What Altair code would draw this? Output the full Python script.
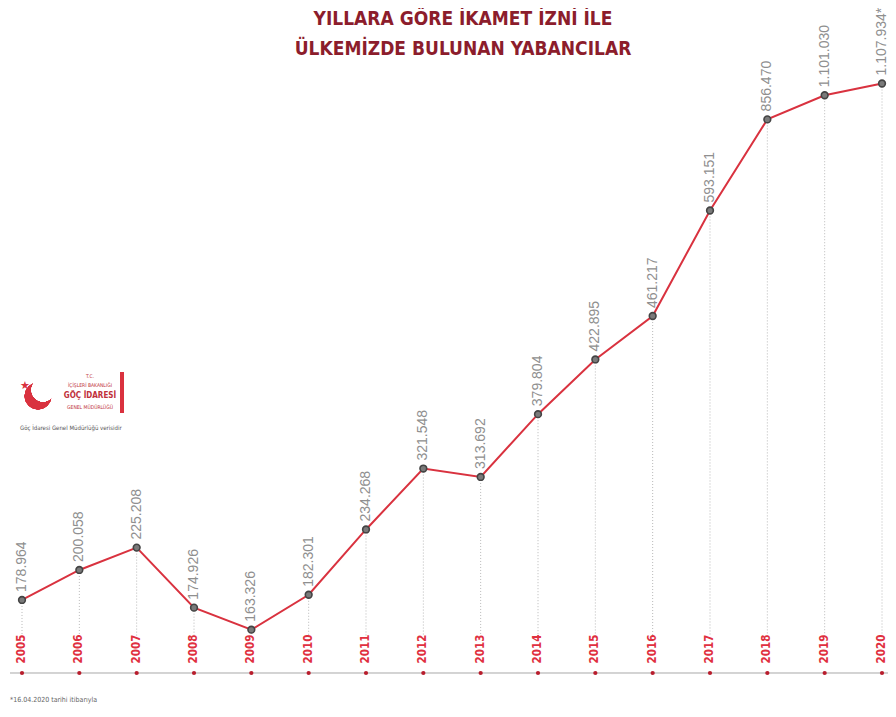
import altair as alt
import pandas as pd

# ---- data ----
years = [2005, 2006, 2007, 2008, 2009, 2010, 2011, 2012,
         2013, 2014, 2015, 2016, 2017, 2018, 2019, 2020]
values = [178964, 200058, 225208, 174926, 163326, 182301, 234268, 321548,
          313692, 379804, 422895, 461217, 593151, 856470, 1101030, 1107934]
notes = [""] * 15 + ["*"]

title_lines = ["YILLARA GÖRE İKAMET İZNİ İLE", "ÜLKEMİZDE BULUNAN YABANCILAR"]
footnote = "*16.04.2020 tarihi itibarıyla"
source_note = "Göç İdaresi Genel Müdürlüğü verisidir"
logo_lines = ["T.C.", "İÇİŞLERİ BAKANLIĞI", "GÖÇ İDARESİ", "GENEL MÜDÜRLÜĞÜ"]

labels = [f"{v:,}".replace(",", ".") + n for v, n in zip(values, notes)]
df = pd.DataFrame({"year": years, "value": values, "label": labels})

# the infographic is not drawn to a linear scale: piecewise-linear y scale
Y_KNOTS = [150000, 180000, 200000, 225000, 240000, 300000, 320000,
           380000, 450000, 600000, 850000, 1100000, 1110000]
Y_RANGE = [647, 590, 562, 540, 510, 484, 462, 406, 317, 197, 112, 89, 72]

RED = "#d9323f"
COND = "DejaVu Sans Condensed"
x = alt.X("year:Q", scale=alt.Scale(domain=[2005, 2020], range=[14, 874]), axis=None)
y = alt.Y("value:Q", scale=alt.Scale(domain=Y_KNOTS, range=Y_RANGE, zero=False, nice=False), axis=None)

base = alt.Chart(df)

drops = base.mark_rule(strokeDash=[1, 2], color="#b8b8b8", strokeWidth=1).encode(
    x=x, y=y, y2=alt.value(628))
line = base.mark_line(color=RED, strokeWidth=2).encode(x=x, y=y)
pts = base.mark_circle(size=45, fill="#7a7a7a", stroke="#444444", strokeWidth=1.6, opacity=1).encode(x=x, y=y)
vlabels = base.mark_text(angle=270, align="left", baseline="middle", dx=8, fontSize=14,
                         color="#8f8f8f", font="Liberation Sans").encode(x=x, y=y, text="label:N")
ylabels = base.mark_text(angle=270, align="center", baseline="middle", fontSize=11.5,
                         fontWeight="bold", font=COND, color="#e0303f").encode(
    x=x, y=alt.value(641), text=alt.Text("year:Q", format="d"))
axis_line = base.mark_rule(color="#d3d3d3", strokeWidth=1).encode(
    x=alt.value(2), x2=alt.value(880), y=alt.value(665))
axis_dots = base.mark_circle(size=18, color="#b81d2c", opacity=1).encode(x=x, y=alt.value(665))


def text_at(t, xpos, ypos, **kw):
    return alt.Chart(pd.DataFrame({"t": [t]})).mark_text(**kw).encode(
        x=alt.value(xpos), y=alt.value(ypos), text="t:N")


title1 = text_at(title_lines[0], 455, 11, align="center", baseline="middle", fontSize=19,
                 fontWeight="bold", font=COND, color="#8c1d2c")
title2 = text_at(title_lines[1], 455, 41, align="center", baseline="middle", fontSize=19,
                 fontWeight="bold", font=COND, color="#8c1d2c")

fn = text_at(footnote, 2, 692, align="left", baseline="middle", fontSize=7,
             color="#666666", font=COND)

# logo block
logo_t = text_at(logo_lines[0], 82, 368, align="center", baseline="middle", fontSize=5,
                 color="#c0303a", font=COND)
logo_b = text_at(logo_lines[1], 82, 377, align="center", baseline="middle", fontSize=5,
                 color="#c0303a", font=COND)
logo_g = text_at(logo_lines[2], 82, 388, align="center", baseline="middle", fontSize=8,
                 fontWeight="bold", color="#c0303a", font=COND)
logo_m = text_at(logo_lines[3], 82, 399, align="center", baseline="middle", fontSize=5,
                 color="#c0303a", font=COND)
logo_bar = base.mark_rule(color="#d9323f", strokeWidth=2.5).encode(
    x=alt.value(114), y=alt.value(364), y2=alt.value(405))
cres_red = base.mark_circle(size=700, color="#d9323f", opacity=1).encode(
    x=alt.value(30), y=alt.value(388))
cres_white = base.mark_circle(size=520, color="white", opacity=1).encode(
    x=alt.value(35), y=alt.value(382))
star = text_at("★", 17, 378, fontSize=11, color="#d9323f", font="DejaVu Sans")
src = text_at(source_note, 12, 420, align="left", baseline="middle", fontSize=6,
              color="#555555", font=COND)

chart = alt.layer(
    drops, axis_line, axis_dots, line, pts, vlabels, ylabels, title1, title2, fn,
    cres_red, cres_white, star, logo_t, logo_b, logo_g, logo_m, logo_bar, src,
).properties(width=880, height=701, autosize="none", padding=0).configure_view(stroke=None)

chart.save("out.html", embed_options={"renderer": "svg", "actions": False})
